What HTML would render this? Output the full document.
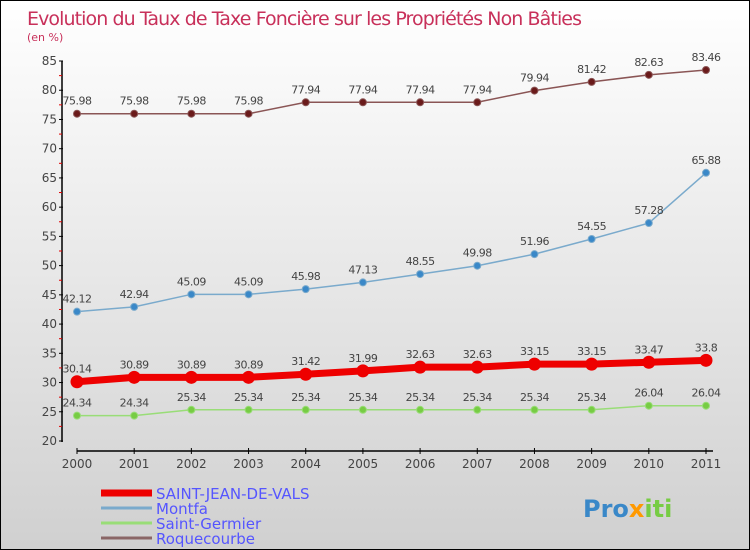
<!DOCTYPE html>
<html><head><meta charset="utf-8"><style>
body{margin:0}
#c{width:750px;height:550px;position:relative;overflow:hidden;background:linear-gradient(#ffffff,#d0d0d0);border:1px solid #000;box-sizing:border-box}
svg{position:absolute;left:0;top:0}
text{font-family:"DejaVu Sans","Liberation Sans",sans-serif}
</style></head><body>
<div id="c">
<svg id="s" width="750" height="550">
<text x="26" y="24" font-size="19" fill="#c8305a" textLength="555">Evolution du Taux de Taxe Foncière sur les Propriétés Non Bâties</text>
<text x="26" y="40" font-size="11" fill="#c8305a">(en %)</text>
</svg>
</div>
<script>
const years=["2000","2001","2002","2003","2004","2005","2006","2007","2008","2009","2010","2011"];
const yTicks=[20,25,30,35,40,45,50,55,60,65,70,75,80,85];
const saintJean=[30.14,30.89,30.89,30.89,31.42,31.99,32.63,32.63,33.15,33.15,33.47,33.8];
const montfa=[42.12,42.94,45.09,45.09,45.98,47.13,48.55,49.98,51.96,54.55,57.28,65.88];
const saintGermier=[24.34,24.34,25.34,25.34,25.34,25.34,25.34,25.34,25.34,25.34,26.04,26.04];
const roquecourbe=[75.98,75.98,75.98,75.98,77.94,77.94,77.94,77.94,79.94,81.42,82.63,83.46];
const labSJ=["30.14","30.89","30.89","30.89","31.42","31.99","32.63","32.63","33.15","33.15","33.47","33.8"];
const labM=["42.12","42.94","45.09","45.09","45.98","47.13","48.55","49.98","51.96","54.55","57.28","65.88"];
const labG=["24.34","24.34","25.34","25.34","25.34","25.34","25.34","25.34","25.34","25.34","26.04","26.04"];
const labR=["75.98","75.98","75.98","75.98","77.94","77.94","77.94","77.94","79.94","81.42","82.63","83.46"];
const s=document.getElementById('s');const NS="http://www.w3.org/2000/svg";
const X=i=>76+i*(705-76)/11;const Y=v=>440-(v-20)*(380/65);
function mk(t,a,name,p){const e=document.createElementNS(NS,t);for(const k in a)e.setAttribute(k,a[k]);


(p||s).appendChild(e);return e;}
mk('line',{x1:61,y1:60,x2:61,y2:441,stroke:'#000','stroke-width':1.5},'y-axis');
mk('line',{x1:76,y1:450,x2:712,y2:450,stroke:'#000','stroke-width':1.5},'x-axis');
yTicks.forEach(v=>{const y=Y(v);
mk('line',{x1:58,y1:y,x2:62,y2:y,stroke:'#000'},'y-tick');
if(v<85){const ym=Y(v+2.5);mk('line',{x1:58,y1:ym,x2:61,y2:ym,stroke:'#e00000'},'y-minor-tick');}
const t=mk('text',{x:56,y:y+4,'font-size':12,fill:'#444','text-anchor':'end'},'y-tick-label');t.textContent=v;});
years.forEach((yr,i)=>{mk('line',{x1:X(i),y1:447,x2:X(i),y2:453,stroke:'#000'},'x-tick');
const t=mk('text',{x:X(i),y:467,'font-size':12,fill:'#444','text-anchor':'middle'},'x-tick-label');t.textContent=yr;});
function series(d,lab,col,dot,w,r,name){
mk('polyline',{points:d.map((v,i)=>X(i)+','+Y(v)).join(' '),fill:'none',stroke:col,'stroke-width':w},name+'-line');
d.forEach((v,i)=>{mk('circle',{cx:X(i),cy:Y(v),r:r,fill:dot,stroke:col,'stroke-width':1},name+'-point');
const t=mk('text',{x:X(i),y:Y(v)-9,'font-size':11,fill:'#444','text-anchor':'middle','letter-spacing':'-0.5'},name+'-value-label');t.textContent=lab[i];});}
series(roquecourbe,labR,'#8a5555','#6a1a1a',1.5,3.5,'roquecourbe');
series(montfa,labM,'#7aaacc','#3a88c8',1.5,3.5,'montfa');
series(saintJean,labSJ,'#ee0000','#ee0000',7,6,'saint-jean-de-vals');
series(saintGermier,labG,'#99dd77','#77cc44',1.5,3.5,'saint-germier');
const leg=[["SAINT-JEAN-DE-VALS","#ee0000",7,493],["Montfa","#7aaacc",3,508],["Saint-Germier","#99dd77",3,523],["Roquecourbe","#8a6666",3,538]];
leg.forEach(l=>{mk('line',{x1:100,y1:l[3]-1,x2:151,y2:l[3]-1,stroke:l[1],'stroke-width':l[2]},'legend-swatch');
const t=mk('text',{x:155,y:l[3]+5,'font-size':15,fill:'#5555ff'},'legend-entry');t.textContent=l[0];});
const p=mk('text',{x:582,y:516,'font-size':24,'font-weight':'bold',fill:'#3a88c8'},'proxiti-logo');p.innerHTML='Pro<tspan fill="#ff9900">x</tspan><tspan fill="#77cc44">iti</tspan>';
</script>
</body></html>
